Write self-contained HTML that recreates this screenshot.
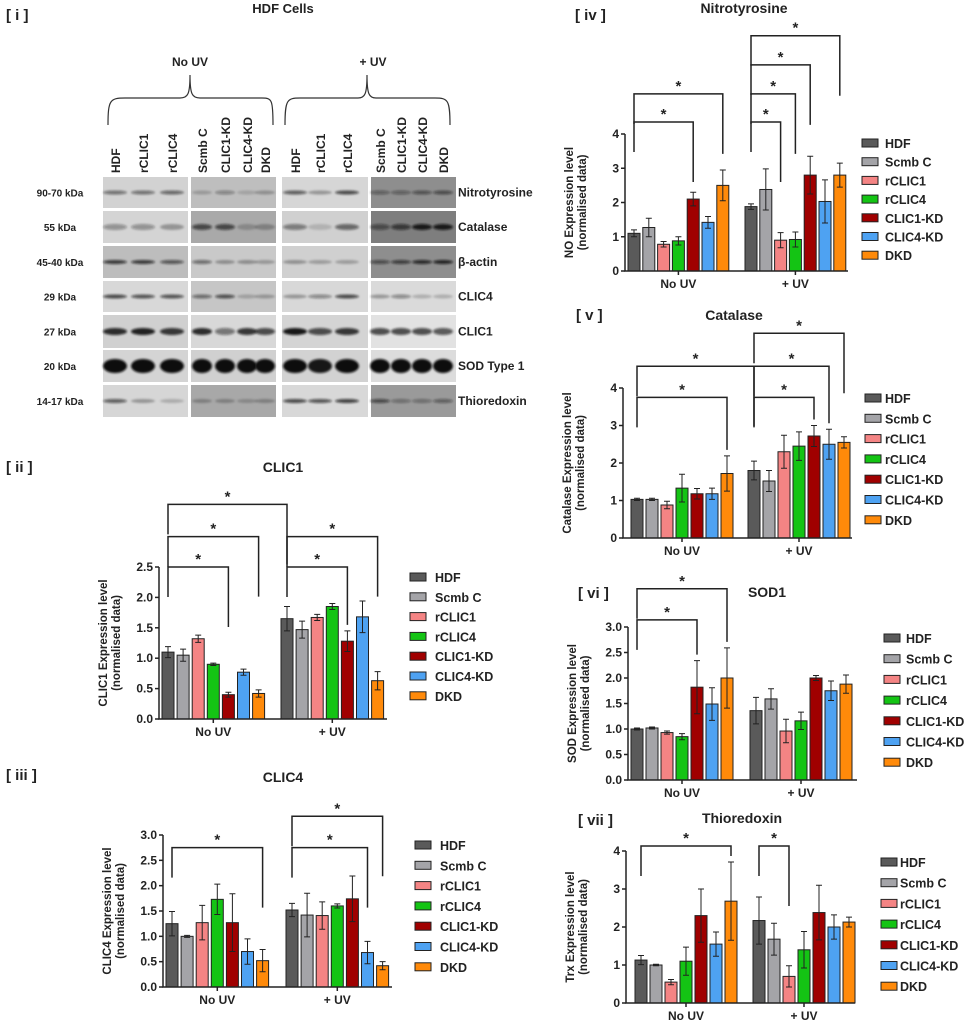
<!DOCTYPE html>
<html><head><meta charset="utf-8"><style>
html,body{margin:0;padding:0;background:#fff;}
svg{display:block;font-family:"Liberation Sans",sans-serif;}
text{font-weight:bold;fill:#222;}
</style></head><body>
<svg id="fig" width="969" height="1026" viewBox="0 0 969 1026" xmlns="http://www.w3.org/2000/svg">
<defs><filter id="blur" x="-20%" y="-50%" width="140%" height="200%"><feGaussianBlur stdDeviation="1.1"/></filter></defs>
<g id="blot"></g>
<g id="charts"></g>
</svg>
<script>
var groups = ["HDF","Scmb C","rCLIC1","rCLIC4","CLIC1-KD","CLIC4-KD","DKD"];
var conditions = ["No UV","+ UV"];
var colors = ["#5a5a5a","#a4a4a8","#f48484","#14c414","#a00000","#4ea2f2","#ff8a0a"];

var clic1NoUV = [1.10,1.05,1.32,0.90,0.40,0.77,0.42];
var clic1NoUVErr = [0.09,0.10,0.06,0.02,0.04,0.05,0.06];
var clic1UV = [1.65,1.47,1.67,1.85,1.28,1.68,0.63];
var clic1UVErr = [0.20,0.14,0.05,0.05,0.17,0.26,0.15];
var clic1Ticks = ["0.0","0.5","1.0","1.5","2.0","2.5"];
var clic1Sig = [[0,0,0,4,2.5],[0,0,0,6,3.0],[0,0,1,0,3.53],[1,0,1,4,2.5],[1,0,1,6,3.0]];

var clic4NoUV = [1.25,1.00,1.27,1.73,1.27,0.70,0.52];
var clic4NoUVErr = [0.24,0.02,0.34,0.30,0.57,0.25,0.22];
var clic4UV = [1.52,1.42,1.41,1.60,1.74,0.68,0.42];
var clic4UVErr = [0.13,0.43,0.27,0.04,0.45,0.22,0.08];
var clic4Ticks = ["0.0","0.5","1.0","1.5","2.0","2.5","3.0"];
var clic4Sig = [[0,0,0,6,2.75],[1,0,1,5,2.75],[1,0,1,6,3.37]];

var noNoUV = [1.10,1.27,0.78,0.88,2.10,1.42,2.50];
var noNoUVErr = [0.10,0.27,0.08,0.12,0.20,0.17,0.45];
var noUV = [1.88,2.38,0.90,0.92,2.80,2.03,2.80];
var noUVErr = [0.08,0.60,0.22,0.22,0.55,0.63,0.35];
var noTicks = ["0","1","2","3","4"];
var noSig = [[0,0,0,4,4.35],[0,0,0,6,5.17],[1,0,1,2,4.35],[1,0,1,3,5.17],[1,0,1,4,6.02],[1,0,1,6,6.87]];

var catNoUV = [1.03,1.03,0.88,1.33,1.18,1.18,1.72];
var catNoUVErr = [0.03,0.03,0.10,0.37,0.14,0.15,0.47];
var catUV = [1.80,1.52,2.30,2.45,2.72,2.50,2.55];
var catUVErr = [0.25,0.28,0.44,0.38,0.28,0.40,0.15];
var catTicks = ["0","1","2","3","4"];
var catSig = [[0,0,0,6,3.75],[0,0,1,0,4.58],[1,0,1,4,3.75],[1,0,1,5,4.58],[1,0,1,6,5.46]];

var sodNoUV = [1.00,1.02,0.93,0.85,1.82,1.49,2.00];
var sodNoUVErr = [0.02,0.02,0.03,0.06,0.52,0.32,0.59];
var sodUV = [1.36,1.59,0.96,1.16,2.00,1.75,1.88];
var sodUVErr = [0.26,0.20,0.23,0.17,0.05,0.19,0.18];
var sodTicks = ["0.0","0.5","1.0","1.5","2.0","2.5","3.0"];
var sodSig = [[0,0,0,4,3.14],[0,0,0,6,3.75]];

var trxNoUV = [1.13,1.00,0.55,1.10,2.30,1.55,2.68];
var trxNoUVErr = [0.12,0.02,0.07,0.37,0.70,0.32,1.03];
var trxUV = [2.17,1.68,0.70,1.40,2.38,2.00,2.13];
var trxUVErr = [0.62,0.42,0.28,0.48,0.72,0.32,0.13];
var trxTicks = ["0","1","2","3","4"];
var trxSig = [[0,0,0,6,4.13],[1,0,1,2,4.13]];

var NS="http://www.w3.org/2000/svg";
function mk(parent,tag,attrs,txt){var e=document.createElementNS(NS,tag);for(var k in attrs)e.setAttribute(k,attrs[k]);if(txt!==undefined)e.textContent=txt;parent.appendChild(e);return e;}

function drawChart(p){
  var g=mk(document.getElementById('charts'),'g',{});
  
  
  var ymax=p.ymax;
  function ys(v){return p.y0-(v/ymax)*(p.y0-p.ytop);}
  function xs(c,i){return (c===0?p.x1:p.x2)+i*p.step;}
  var vals=[p.v0,p.v1], errs=[p.e0,p.e1];
  var pl=mk(g,'text',{x:p.lx,y:p.ly,'font-size':15},p.label);
  
  
  var tt=mk(g,'text',{x:p.tx,y:p.ty,'font-size':14,'text-anchor':'middle'},p.title);
  
  
  for(var c=0;c<2;c++){for(var i=0;i<7;i++){
    var v=vals[c][i], e=errs[c][i], x=xs(c,i);
    var r=mk(g,'rect',{x:x-6,y:ys(v),width:12,height:p.y0-ys(v),fill:colors[i],stroke:'#222','stroke-width':1});
    
    
    var eb=mk(g,'path',{d:'M'+x+' '+ys(v-e)+'V'+ys(v+e)+'M'+(x-3)+' '+ys(v+e)+'H'+(x+3)+'M'+(x-3)+' '+ys(v-e)+'H'+(x+3),stroke:'#222','stroke-width':1,fill:'none'});
    
    
  }}
  var ax=mk(g,'path',{d:'M'+p.ax+' '+p.ytop+'V'+p.y0+'H'+p.axr,stroke:'#222','stroke-width':1.5,fill:'none'});
  
  
  var nt=p.ticks.length;
  for(var t=0;t<nt;t++){
    var tv=ymax*t/(nt-1), yy=ys(tv);
    mk(g,'line',{x1:p.ax-4,x2:p.ax,y1:yy,y2:yy,stroke:'#222','stroke-width':1.5});
    var tl=mk(g,'text',{x:p.ax-6,y:yy+4,'font-size':12,'text-anchor':'end'},p.ticks[t]);
    
    
  }
  for(var c2=0;c2<2;c2++){
    var cx=xs(c2,3);
    mk(g,'line',{x1:cx,x2:cx,y1:p.y0,y2:p.y0+4,stroke:'#222','stroke-width':1.5});
    var cl=mk(g,'text',{x:cx,y:p.y0+17,'font-size':12,'text-anchor':'middle'},conditions[c2]);
    
    
  }
  var my=(p.y0+p.ytop)/2;
  var yt=mk(g,'text',{transform:'translate('+(p.ax-52)+','+my+') rotate(-90)','font-size':11.5,'text-anchor':'middle'},p.ylab);
  
  
  var yt2=mk(g,'text',{transform:'translate('+(p.ax-39)+','+my+') rotate(-90)','font-size':11.5,'text-anchor':'middle'},'(normalised data)');
  
  
  p.sig.forEach(function(s){
    var xa=xs(s[0],s[1]), xb=xs(s[2],s[3]), yb=ys(s[4]);
    var ta=ys(vals[s[0]][s[1]]+errs[s[0]][s[1]])-6, tb=ys(vals[s[2]][s[3]]+errs[s[2]][s[3]])-6;
    var br=mk(g,'path',{d:'M'+xa+' '+Math.min(ta,yb+30)+'V'+yb+'H'+xb+'V'+Math.min(tb,yb+60),stroke:'#222','stroke-width':1.5,fill:'none'});
    
    
    var st=mk(g,'text',{x:(xa+xb)/2,y:yb-3,'font-size':15,'text-anchor':'middle'},'*');
    
    
  });
  for(var k=0;k<7;k++){
    var ly=p.legy+k*p.legstep;
    var lg=mk(g,'g',{});
    
    
    mk(lg,'rect',{x:p.legx,y:ly-4,width:16,height:8,fill:colors[k],stroke:'#222','stroke-width':1});
    mk(lg,'text',{x:p.legtx,y:ly+5,'font-size':12.5},groups[k]);
  }
}

drawChart({name:'clic1',label:'[ ii ]',title:'CLIC1',lx:6,ly:472,tx:283,ty:472,v0:clic1NoUV,e0:clic1NoUVErr,v1:clic1UV,e1:clic1UVErr,ticks:clic1Ticks,ymax:2.5,sig:clic1Sig,ylab:'CLIC1 Expression level',
  ax:159,axr:387,y0:719,ytop:567,x1:168,x2:287,step:15.1,legx:410,legtx:435,legy:577,legstep:19.8});
drawChart({name:'clic4',label:'[ iii ]',title:'CLIC4',lx:6,ly:780,tx:283,ty:782,v0:clic4NoUV,e0:clic4NoUVErr,v1:clic4UV,e1:clic4UVErr,ticks:clic4Ticks,ymax:3,sig:clic4Sig,ylab:'CLIC4 Expression level',
  ax:163,axr:392,y0:987,ytop:835,x1:172,x2:292,step:15.1,legx:415,legtx:440,legy:845,legstep:20.3});
drawChart({name:'nitrotyrosine',label:'[ iv ]',title:'Nitrotyrosine',lx:575,ly:20,tx:744,ty:13,v0:noNoUV,e0:noNoUVErr,v1:noUV,e1:noUVErr,ticks:noTicks,ymax:4,sig:noSig,ylab:'NO Expression level',
  ax:625,axr:848,y0:271,ytop:134,x1:634,x2:751,step:14.8,legx:862,legtx:885,legy:143,legstep:18.7});
drawChart({name:'catalase',label:'[ v ]',title:'Catalase',lx:576,ly:320,tx:734,ty:320,v0:catNoUV,e0:catNoUVErr,v1:catUV,e1:catUVErr,ticks:catTicks,ymax:4,sig:catSig,ylab:'Catalase Expression level',
  ax:623,axr:852,y0:538,ytop:388,x1:637,x2:754,step:15,legx:865,legtx:885,legy:398,legstep:20.3});
drawChart({name:'sod1',label:'[ vi ]',title:'SOD1',lx:578,ly:598,tx:767,ty:597,v0:sodNoUV,e0:sodNoUVErr,v1:sodUV,e1:sodUVErr,ticks:sodTicks,ymax:3,sig:sodSig,ylab:'SOD Expression level',
  ax:628,axr:857,y0:780,ytop:627,x1:637,x2:756,step:15,legx:884,legtx:906,legy:638,legstep:20.7});
drawChart({name:'thioredoxin',label:'[ vii ]',title:'Thioredoxin',lx:578,ly:825,tx:742,ty:823,v0:trxNoUV,e0:trxNoUVErr,v1:trxUV,e1:trxUVErr,ticks:trxTicks,ymax:4,sig:trxSig,ylab:'Trx Expression level',
  ax:626,axr:855,y0:1003,ytop:851,x1:641,x2:759,step:15,legx:881,legtx:900,legy:862,legstep:20.7});

(function(){
  var b=document.getElementById('blot');
  var pl=mk(b,'text',{x:6,y:20,'font-size':15},'[ i ]');
  
  
  var t=mk(b,'text',{x:283,y:13,'font-size':13,'text-anchor':'middle'},'HDF Cells');
  
  
  var h1=mk(b,'text',{x:190,y:66,'font-size':12,'text-anchor':'middle'},'No UV');
  
  
  var h2=mk(b,'text',{x:373,y:66,'font-size':12,'text-anchor':'middle'},'+ UV');
  
  
  mk(b,'path',{d:'M108 125 C108 100 110 98 125 98 H180 C188 98 190 94 190 75 C190 94 192 98 200 98 H262 C272 98 273 100 273 125',stroke:'#333','stroke-width':1.2,fill:'none'});
  mk(b,'path',{d:'M285 125 C285 100 287 98 300 98 H358 C365 98 367 94 367 75 C367 94 369 98 376 98 H435 C448 98 450 100 450 125',stroke:'#333','stroke-width':1.2,fill:'none'});
  var lanes=[["HDF","rCLIC1","rCLIC4"],["Scmb C","CLIC1-KD","CLIC4-KD","DKD"],["HDF","rCLIC1","rCLIC4"],["Scmb C","CLIC1-KD","CLIC4-KD","DKD"]];
  var laneX=[[115,143,172],[202,225,247,265],[295,320,347],[380,401,422,443]];
  var blockX=[[103,188],[191,276],[282,368],[371,456]];
  var rowsY=[[177,208],[211,243],[246,278],[281,312],[315,348],[350,382],[385,417]];
  var kda=["90-70 kDa","55 kDa","45-40 kDa","29 kDa","27 kDa","20 kDa","14-17 kDa"];
  var prot=["Nitrotyrosine","Catalase","\u03b2-actin","CLIC4","CLIC1","SOD Type 1","Thioredoxin"];
  var bg=[["#d2d2d2","#bebebe","#d6d6d6","#8e8e8e"],["#d4d4d4","#a9a9a9","#d0d0d0","#7e7e7e"],["#bdbdbd","#c9c9c9","#d0d0d0","#8e8e8e"],["#d8d8d8","#c6c6c6","#d8d8d8","#dadada"],["#d0d0d0","#d8d8d8","#d4d4d4","#e2e2e2"],["#d4d4d4","#d0d0d0","#d2d2d2","#dcdcdc"],["#d6d6d6","#a8a8a8","#d8d8d8","#9a9a9a"]];
  var bandH=[4,6,4,4,7,14,4];
  var inten=[[[.5,.5,.55],[.2,.35,.15,.25],[.6,.3,.7],[.4,.4,.5,.55]],
             [[.35,.35,.3],[.65,.65,.2,.25],[.45,.15,.55],[.5,.65,.9,.9]],
             [[.75,.75,.6],[.5,.3,.3,.25],[.3,.25,.25],[.55,.65,.8,.85]],
             [[.7,.65,.65],[.5,.65,.2,.25],[.3,.4,.7],[.3,.4,.2,.2]],
             [[.85,.9,.8],[.85,.5,.8,.7],[.95,.7,.8],[.7,.7,.7,.65]],
             [[1,1,1],[1,1,1,1],[1,.95,1],[1,1,1,1]],
             [[.6,.3,.2],[.25,.25,.2,.25],[.7,.65,.75],[.6,.35,.35,.45]]];
  for(var r=0;r<7;r++){
    var y0=rowsY[r][0],y1=rowsY[r][1],ym=(y0+y1)/2;
    var kl=mk(b,'text',{x:60,y:ym+4,'font-size':10,'text-anchor':'middle'},kda[r]);
    
    
    var plb=mk(b,'text',{x:458,y:ym+4,'font-size':12},prot[r]);
    
    
    for(var k=0;k<4;k++){
      mk(b,'rect',{x:blockX[k][0],y:y0,width:blockX[k][1]-blockX[k][0],height:y1-y0,fill:bg[r][k]});
      for(var l=0;l<laneX[k].length;l++){
        var a=inten[r][k][l];
        mk(b,'ellipse',{cx:laneX[k][l],cy:ym,rx:(k%2?10:12),ry:bandH[r]/2,fill:'#111','fill-opacity':a,filter:'url(#blur)'});
      }
    }
  }
  for(var k2=0;k2<4;k2++)for(var l2=0;l2<lanes[k2].length;l2++){
    var lt=mk(b,'text',{transform:'translate('+(laneX[k2][l2]+5)+',173) rotate(-90)','font-size':12},lanes[k2][l2]);
    
    
  }
})();
</script>
</body></html>
